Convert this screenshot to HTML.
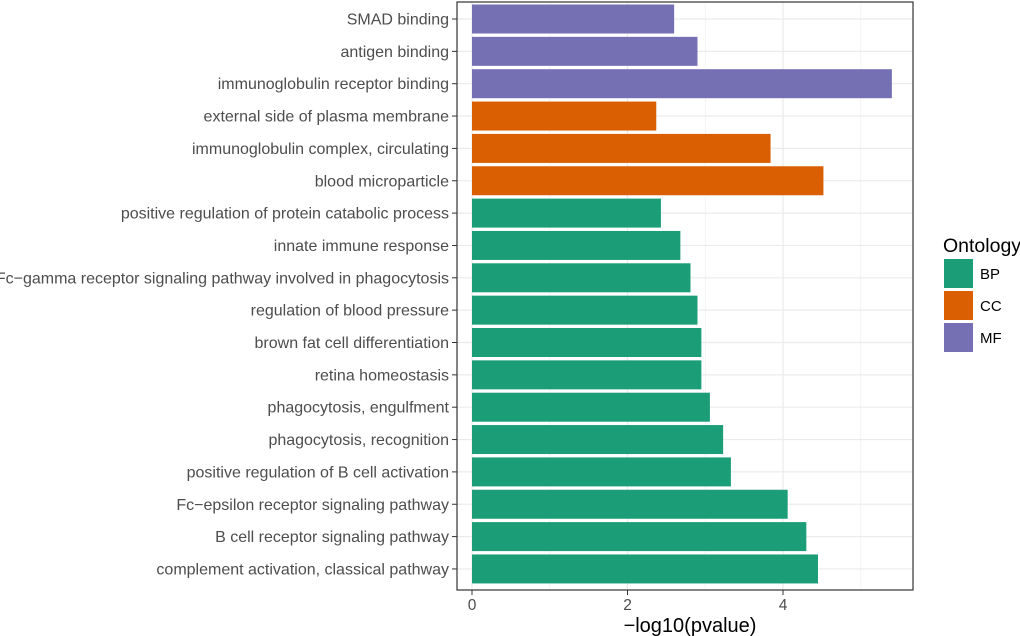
<!DOCTYPE html>
<html><head><meta charset="utf-8"><style>
html,body{margin:0;padding:0;background:#fff;}
svg{display:block;font-family:"Liberation Sans",sans-serif;}
</style></head><body>
<svg id="chart" width="1020" height="636" viewBox="0 0 1020 636">
<g id="grid"></g>
<g id="bars"></g>
<rect x="457" y="2" width="456" height="588" fill="none" stroke="#333" stroke-width="1.2"/>
<g id="yaxis"></g>
<g id="xaxis"></g>
<text x="690" y="632" font-size="20" fill="#000" text-anchor="middle">−log10(pvalue)</text>
<g>
<text x="943" y="252" font-size="19.5" fill="#000">Ontology</text>
<g><rect x="944" y="259" width="29" height="29" fill="#1B9E77"/><text x="980" y="279" font-size="15" fill="#000">BP</text></g>
<g><rect x="944" y="291" width="29" height="29" fill="#D95F02"/><text x="980" y="311" font-size="15" fill="#000">CC</text></g>
<g><rect x="944" y="323" width="29" height="29" fill="#7570B3"/><text x="980" y="343" font-size="15" fill="#000">MF</text></g>
</g>
</svg>
<script>
const categories = ["SMAD binding","antigen binding","immunoglobulin receptor binding","external side of plasma membrane","immunoglobulin complex, circulating","blood microparticle","positive regulation of protein catabolic process","innate immune response","Fc−gamma receptor signaling pathway involved in phagocytosis","regulation of blood pressure","brown fat cell differentiation","retina homeostasis","phagocytosis, engulfment","phagocytosis, recognition","positive regulation of B cell activation","Fc−epsilon receptor signaling pathway","B cell receptor signaling pathway","complement activation, classical pathway"];
const values = [2.6,2.9,5.4,2.37,3.84,4.52,2.43,2.68,2.81,2.9,2.95,2.95,3.06,3.23,3.33,4.06,4.3,4.45];
const ontology = ["MF","MF","MF","CC","CC","CC","BP","BP","BP","BP","BP","BP","BP","BP","BP","BP","BP","BP"];
const xTicks = [0,2,4];
const xMinor = [1,3,5];
const colors = {BP:"#1B9E77",CC:"#D95F02",MF:"#7570B3"};
const NS="http://www.w3.org/2000/svg";
const x = v => 472 + v*77.75;
const y = i => 19 + i*32.35;
function mk(tag, attrs, parent){const e=document.createElementNS(NS,tag);for(const k in attrs)e.setAttribute(k,attrs[k]);parent.appendChild(e);return e;}
const grid=document.getElementById('grid'),bars=document.getElementById('bars'),ya=document.getElementById('yaxis'),xa=document.getElementById('xaxis');
xMinor.forEach(v=>{const l=mk('line',{x1:x(v),x2:x(v),y1:2,y2:590,stroke:'#F2F2F2','stroke-width':0.8},grid);

});
xTicks.forEach(v=>{const l=mk('line',{x1:x(v),x2:x(v),y1:2,y2:590,stroke:'#EBEBEB','stroke-width':1.2},grid);


const t=mk('line',{x1:x(v),x2:x(v),y1:590,y2:595,stroke:'#333','stroke-width':1},xa);


const tx=mk('text',{x:x(v),y:610,'font-size':15.5,fill:'#4D4D4D','text-anchor':'middle'},xa);
tx.textContent=v;

});
categories.forEach((c,i)=>{const l=mk('line',{x1:457,x2:913,y1:y(i),y2:y(i),stroke:'#EBEBEB','stroke-width':1.2},grid);


const r=mk('rect',{x:x(0),y:y(i)-14.5,width:x(values[i])-x(0),height:29,fill:colors[ontology[i]]},bars);


const t=mk('line',{x1:452,x2:457,y1:y(i),y2:y(i),stroke:'#333','stroke-width':1},ya);


const tx=mk('text',{x:449,y:y(i)+5.5,'font-size':16,fill:'#4D4D4D','text-anchor':'end'},ya);
tx.textContent=c;

});
</script>
</body></html>
